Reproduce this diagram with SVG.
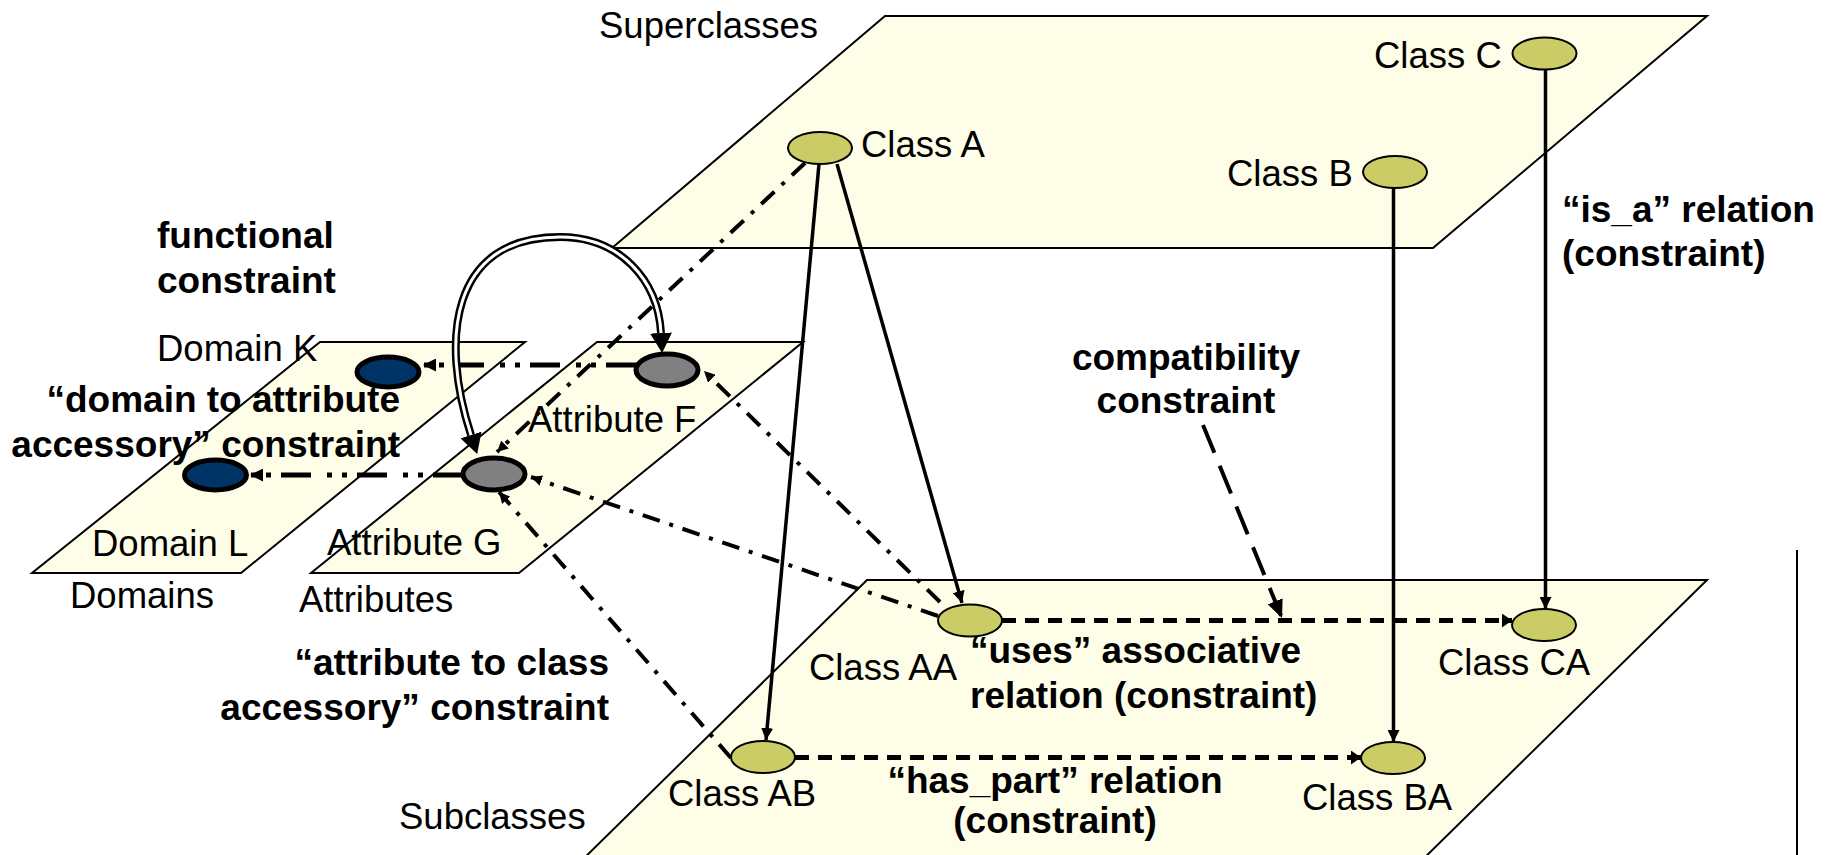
<svg xmlns="http://www.w3.org/2000/svg" width="1829" height="855" viewBox="0 0 1829 855">
  <style>
    .plane { fill: #FEFDE8; stroke: #000; stroke-width: 2; }
    .cls { fill: #CCCC66; stroke: #000; stroke-width: 2; }
    .attr { fill: #808080; stroke: #000; stroke-width: 5; }
    .dom { fill: #003366; stroke: #000; stroke-width: 5; }
    text { font-family: "Liberation Sans", Arial, sans-serif; font-size: 36.5px; fill: #000; }
    .b { font-weight: bold; font-size: 37px; }
    .solid { stroke: #000; stroke-width: 3.5; fill: none; }
    .dash { stroke: #000; stroke-width: 5; fill: none; stroke-dasharray: 14 9; }
    .ldash { stroke: #000; stroke-width: 4; fill: none; stroke-dasharray: 30 14; }
    .dd { stroke: #000; stroke-width: 4; fill: none; stroke-dasharray: 18 10 4 10; }
    .ddk { stroke: #000; stroke-width: 5; fill: none; stroke-dasharray: 30 10 5 10 5 16; }
  </style>
  <defs>
    <marker id="aSolid" markerUnits="userSpaceOnUse" markerWidth="12" markerHeight="12" refX="12" refY="6" orient="auto">
      <path d="M0,0 L12,6 L0,12 z" fill="#000"/>
    </marker>
    <marker id="aDash" markerUnits="userSpaceOnUse" markerWidth="10" markerHeight="14" refX="10" refY="7" orient="auto">
      <path d="M0,0 L10,7 L0,14 z" fill="#000"/>
    </marker>
    <marker id="aLong" markerUnits="userSpaceOnUse" markerWidth="18" markerHeight="16" refX="18" refY="8" orient="auto">
      <path d="M0,0 L18,8 L0,16 z" fill="#000"/>
    </marker>
    <marker id="aDot" markerUnits="userSpaceOnUse" markerWidth="11" markerHeight="11" refX="11" refY="5.5" orient="auto">
      <path d="M0,0 L11,5.5 L0,11 z" fill="#000"/>
    </marker>
    <marker id="aDotK" markerUnits="userSpaceOnUse" markerWidth="13" markerHeight="13" refX="13" refY="6.5" orient="auto">
      <path d="M0,0 L13,6.5 L0,13 z" fill="#000"/>
    </marker>
    <marker id="aArc" markerUnits="userSpaceOnUse" markerWidth="20" markerHeight="22" refX="0" refY="11" orient="auto-start-reverse">
      <path d="M0,0 L20,11 L0,22 z" fill="#000"/>
    </marker>
  </defs>

  <!-- planes -->
  <g id="planes">
    <polygon id="plane-superclasses" class="plane" points="885,16 1707,16 1433,248 612,248"/>
    <polygon id="plane-subclasses" class="plane" points="867,580 1707,580 1412,870 572,870"/>
    <polygon id="plane-domains" class="plane" points="320,342 525,342 241,573 32,573"/>
    <polygon id="plane-attributes" class="plane" points="597,342 803,342 519,573 311,573"/>
    <line x1="1797" y1="550" x2="1797" y2="860" stroke="#000" stroke-width="2"/>
  </g>

  <!-- connectors -->
  <g id="connectors">
    <!-- is_a relations -->
    <line class="solid" x1="819" y1="164" x2="766" y2="740" marker-end="url(#aSolid)"/>
    <line class="solid" x1="837" y1="164" x2="962" y2="603" marker-end="url(#aSolid)"/>
    <line class="solid" x1="1393.5" y1="188" x2="1393.5" y2="742" marker-end="url(#aSolid)"/>
    <line class="solid" x1="1545.5" y1="70" x2="1545.5" y2="609" marker-end="url(#aSolid)"/>
    <!-- uses / has_part -->
    <line class="dash" x1="1002" y1="620.5" x2="1512" y2="620.5" marker-end="url(#aDash)"/>
    <line class="dash" x1="795" y1="757.5" x2="1361" y2="757.5" marker-end="url(#aDash)"/>
    <!-- compatibility pointer -->
    <line class="ldash" x1="1203" y1="425" x2="1282" y2="618" marker-end="url(#aLong)"/>
    <!-- attribute to class accessory -->
    <line class="dd" x1="805" y1="163" x2="497" y2="452" marker-end="url(#aDot)"/>
    <line class="dd" x1="940" y1="602" x2="704" y2="371" marker-end="url(#aDot)"/>
    <line class="dd" x1="938" y1="616" x2="531" y2="477" marker-end="url(#aDot)"/>
    <line class="dd" x1="731" y1="758" x2="499" y2="492" marker-end="url(#aDot)"/>
    <!-- domain to attribute accessory -->
    <line class="ddk" x1="636" y1="365" x2="423" y2="365" marker-end="url(#aDotK)"/>
    <line class="ddk" x1="463" y1="475" x2="250" y2="475" marker-end="url(#aDotK)"/>
    <!-- functional constraint (double line) -->
    <path d="M471,435 C440,340 450,237 560,237 C620,237 658,280 661,333" fill="none" stroke="#000" stroke-width="8" marker-start="url(#aArc)" marker-end="url(#aArc)"/>
    <path d="M471,435 C440,340 450,237 560,237 C620,237 658,280 661,333" fill="none" stroke="#fff" stroke-width="3"/>
  </g>

  <!-- nodes -->
  <g id="class-a"><ellipse class="cls" cx="820" cy="148" rx="32" ry="16"/><text x="861" y="157">Class A</text></g>
  <g id="class-b"><ellipse class="cls" cx="1395" cy="172" rx="32" ry="16"/><text x="1227" y="186">Class B</text></g>
  <g id="class-c"><ellipse class="cls" cx="1544.5" cy="53.5" rx="32" ry="16"/><text x="1374" y="68">Class C</text></g>
  <g id="class-aa"><ellipse class="cls" cx="970" cy="620.5" rx="32" ry="16"/><text x="957" y="680" text-anchor="end">Class AA</text></g>
  <g id="class-ab"><ellipse class="cls" cx="763" cy="757" rx="32" ry="16"/><text x="668" y="806">Class AB</text></g>
  <g id="class-ba"><ellipse class="cls" cx="1393" cy="758" rx="32" ry="16"/><text x="1302" y="810">Class BA</text></g>
  <g id="class-ca"><ellipse class="cls" cx="1544" cy="625" rx="32" ry="16"/><text x="1438" y="675">Class CA</text></g>
  <g id="attribute-f"><ellipse class="attr" cx="667" cy="370" rx="31" ry="16"/><text x="528" y="432">Attribute F</text></g>
  <g id="attribute-g"><ellipse class="attr" cx="494" cy="474" rx="31" ry="16"/><text x="327" y="555">Attribute G</text></g>
  <g id="domain-k"><ellipse class="dom" cx="388" cy="372" rx="31" ry="15"/><text x="157" y="361">Domain K</text></g>
  <g id="domain-l"><ellipse class="dom" cx="215.5" cy="475" rx="31" ry="15"/><text x="92" y="556">Domain L</text></g>

  <!-- layer and constraint labels -->
  <g id="labels">
    <text x="599" y="38">Superclasses</text>
    <text x="399" y="829">Subclasses</text>
    <text x="70" y="608">Domains</text>
    <text x="299" y="612">Attributes</text>
    <text class="b" x="1562" y="222">“is_a” relation</text>
    <text class="b" x="1562" y="266">(constraint)</text>
    <text class="b" x="1186" y="370" text-anchor="middle">compatibility</text>
    <text class="b" x="1186" y="413" text-anchor="middle">constraint</text>
    <text class="b" x="157" y="248">functional</text>
    <text class="b" x="157" y="293">constraint</text>
    <text class="b" x="400" y="412" text-anchor="end">“domain to attribute</text>
    <text class="b" x="400" y="457" text-anchor="end">accessory” constraint</text>
    <text class="b" x="609" y="675" text-anchor="end">“attribute to class</text>
    <text class="b" x="609" y="720" text-anchor="end">accessory” constraint</text>
    <text class="b" x="970" y="663">“uses” associative</text>
    <text class="b" x="970" y="708">relation (constraint)</text>
    <text class="b" x="1055" y="793" text-anchor="middle">“has_part” relation</text>
    <text class="b" x="1055" y="833" text-anchor="middle">(constraint)</text>
  </g>
</svg>
